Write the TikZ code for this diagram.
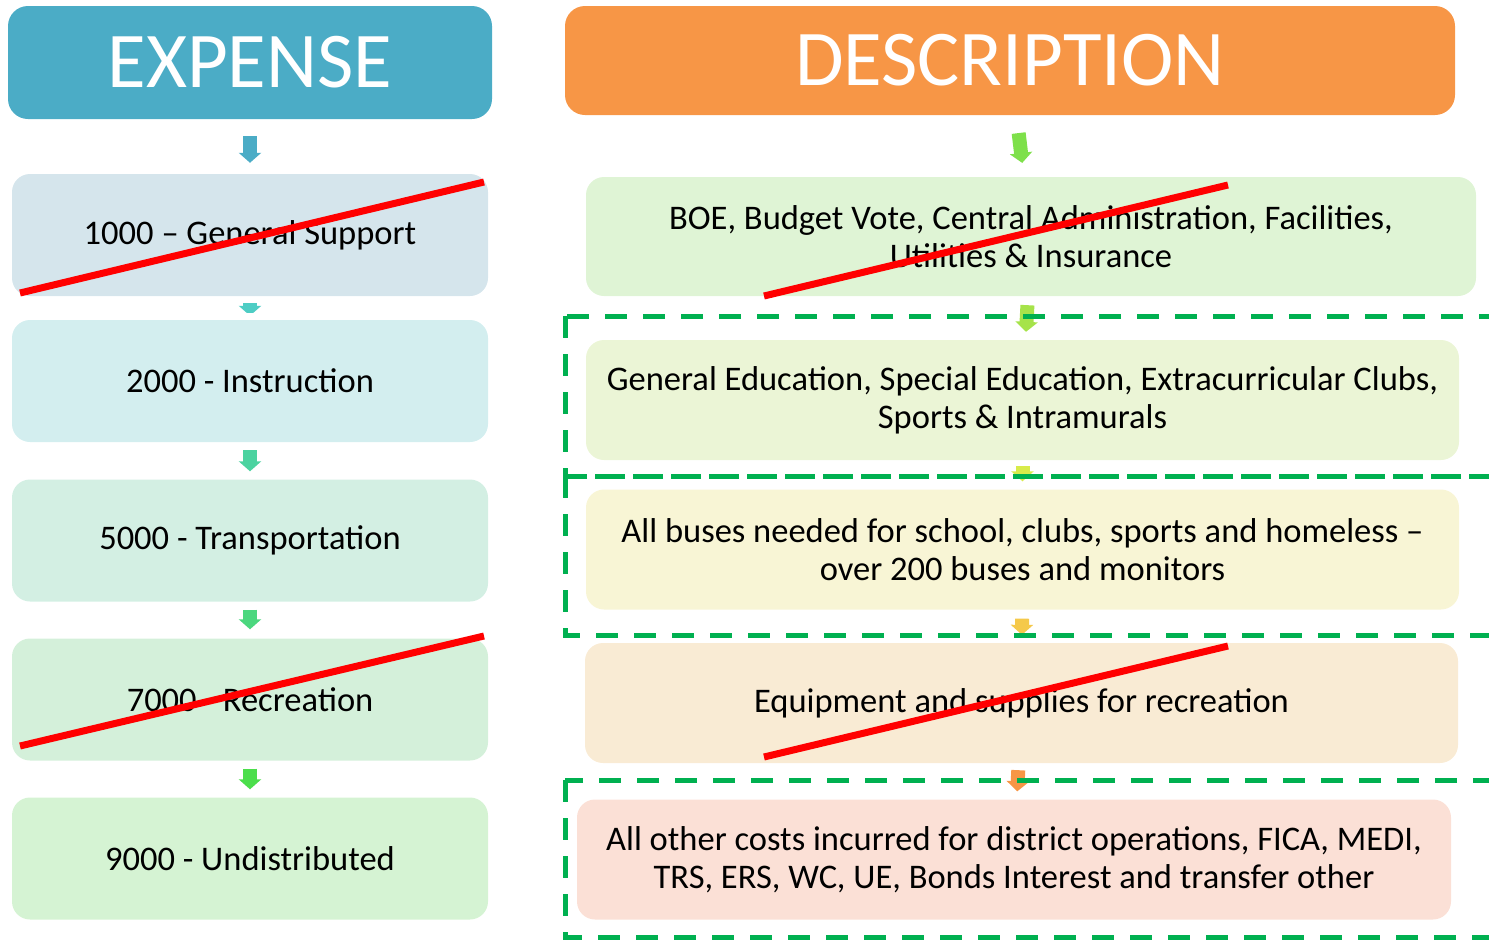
\documentclass[tikz,border=0pt]{standalone}
\usepackage{fontspec}
\setmainfont{Carlito}
\usetikzlibrary{arrows.meta}

\definecolor{expblue}{HTML}{4BACC6}
\definecolor{descorange}{HTML}{F79646}
\definecolor{dashgreen}{HTML}{00B050}
\definecolor{cgen}{HTML}{D5E5EC}
\definecolor{cins}{HTML}{D3EEEF}
\definecolor{ctra}{HTML}{D3EFE3}
\definecolor{crec}{HTML}{D4F0DA}
\definecolor{cund}{HTML}{D5F3D3}
\definecolor{cboe}{HTML}{DFF4D5}
\definecolor{cedu}{HTML}{EBF5D6}
\definecolor{cbus}{HTML}{F8F5D5}
\definecolor{cequ}{HTML}{F9EBD4}
\definecolor{coth}{HTML}{FBE0D6}
\definecolor{agen}{HTML}{4ECDC4}
\definecolor{ains}{HTML}{4BD3A0}
\definecolor{atra}{HTML}{4BD77E}
\definecolor{arec}{HTML}{4BDE4B}
\definecolor{adesc}{HTML}{7EE04A}
\definecolor{aboe}{HTML}{A6E34A}
\definecolor{aedu}{HTML}{D8EB4A}
\definecolor{abus}{HTML}{F5C94A}

\begin{document}
\begin{tikzpicture}[x=1pt,y=-1pt,
		head/.style={rounded corners=20pt, inner sep=0pt, text=white, font=\fontsize{79}{90}\selectfont},
		box/.style={rounded corners=18pt, inner sep=0pt, align=center, font=\fontsize{34.5}{38}\selectfont},
		lbox/.style={box, minimum width=476pt, minimum height=122pt},
		rbox/.style={box, minimum width=873pt, minimum height=120pt},
		arr/.style={draw=#1, line width=14pt, -{Triangle[width=22pt,length=10pt]}},
		cross/.style={red, line width=7pt},
		dashbox/.style={draw=dashgreen, line width=5pt, dash pattern=on 22pt off 16pt}]
				\useasboundingbox (0,0) rectangle (1489,940);
				% headers
				\node[head, fill=expblue, minimum width=484pt, minimum height=113pt] (exp) at (250,62.5) {EXPENSE};
				\node[head, fill=descorange, minimum width=890pt, minimum height=109pt] (desc) at (1010,60.5) {DESCRIPTION};
				% expense codes
				\node[lbox, fill=cgen] (gen) at (250,235) {1000 -- General Support};
				\node[lbox, fill=cins] (ins) at (250,381) {2000 - Instruction};
				\node[lbox, fill=ctra] (tra) at (250,540.5) {5000 - Transportation};
				\node[lbox, fill=crec] (rec) at (250,699.5) {7000 - Recreation};
				\node[lbox, fill=cund] (und) at (250,858.5) {9000 - Undistributed};
				% descriptions
				\node[rbox, fill=cboe, minimum width=890pt, minimum height=119pt] (boe) at (1031,236.5) {BOE, Budget Vote, Central Administration, Facilities,\\Utilities \& Insurance};
				\node[rbox, fill=cedu] (edu) at (1022.5,400) {General Education, Special Education, Extracurricular Clubs,\\Sports \& Intramurals};
				\node[rbox, fill=cbus] (bus) at (1022.5,549.5) {All buses needed for school, clubs, sports and homeless --\\over 200 buses and monitors};
				\node[rbox, fill=cequ] (equ) at (1021.5,703) {Equipment and supplies for recreation};
				\node[rbox, fill=coth, minimum width=874pt] (oth) at (1014,859.5) {All other costs incurred for district operations, FICA, MEDI,\\TRS, ERS, WC, UE, Bonds Interest and transfer other};
				% arrows
				\draw[arr=expblue, shorten <=17pt, shorten >=11pt] (exp) -- (gen);
				\begin{scope}
					\clip (200,303) rectangle (300,312);
					\draw[arr=agen, shorten <=2pt, shorten >=4pt] (gen) -- (ins);
				\end{scope}
				\draw[arr=ains, shorten <=8pt, shorten >=8pt] (ins) -- (tra);
				\draw[arr=atra, shorten <=8pt, shorten >=9pt] (tra) -- (rec);
				\draw[arr=arec, shorten <=8pt, shorten >=8pt] (rec) -- (und);
				\draw[arr=adesc, shorten <=18pt, shorten >=14pt] (desc) -- (boe);
				\draw[arr=aboe, shorten <=9pt, shorten >=8pt] (boe) -- (edu);
				\draw[arr=aedu, shorten <=6pt, shorten >=8pt] (edu) -- (bus);
				\draw[arr=abus, shorten <=9pt, shorten >=8pt] (bus) -- (equ);
				\draw[arr=descorange, shorten <=7pt, shorten >=8pt] (equ) -- (oth);
				% dashed groups
				\draw[dashbox] (565,316) rectangle (1500,476);
				\draw[dashbox] (565,476) rectangle (1500,635);
				\draw[dashbox] (565,780) rectangle (1500,937);
				% struck out
				\draw[cross] (20,293) -- (484,182);
				\draw[cross] (764,296) -- (1228,185);
				\draw[cross] (20,746) -- (484,636);
				\draw[cross] (764,757) -- (1228,646);
			\end{tikzpicture}
\end{document}
